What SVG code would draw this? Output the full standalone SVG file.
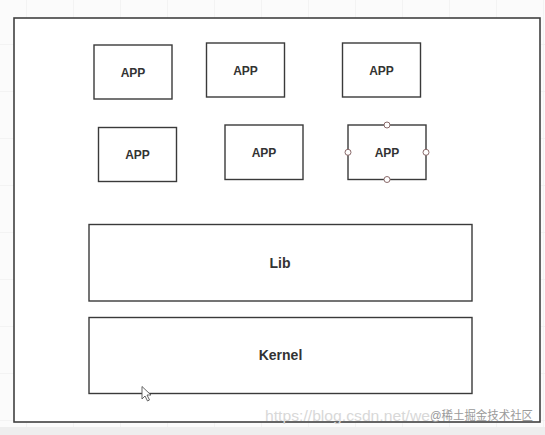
<svg xmlns="http://www.w3.org/2000/svg" width="545" height="435" viewBox="0 0 545 435">
  <style>
    .box { fill: #ffffff; stroke: #3a3a3a; stroke-width: 1.4; }
    .outer { fill: #ffffff; stroke: #404040; stroke-width: 1.6; }
    .app { font-family: "Liberation Sans", Arial, sans-serif; font-weight: bold; font-size: 12px; fill: #333333; text-anchor: middle; }
    .big { font-family: "Liberation Sans", Arial, sans-serif; font-weight: bold; font-size: 14px; fill: #333333; text-anchor: middle; }
    .handle { fill: #ffffff; stroke: #8a6a6a; stroke-width: 1; }
    .wm { font-family: "Liberation Sans", Arial, sans-serif; fill: #d8d8d8; }
    .wm2 { font-family: "Liberation Sans", "Noto Sans CJK SC", sans-serif; fill: #9a9a9a; }
  </style>
  <defs>
    <pattern id="grid" x="26" y="-3" width="47" height="47" patternUnits="userSpaceOnUse">
      <path d="M0 0V47M0 0H47" fill="none" stroke="#ececec" stroke-width="1"/>
    </pattern>
  </defs>
  <rect x="0" y="0" width="545" height="435" fill="#fbfbfb"/>
  <rect x="0" y="0" width="545" height="435" fill="url(#grid)"/>
  <rect x="0" y="427" width="545" height="8" fill="#eeeeee"/>

  <g id="container">
    <rect class="outer" x="14" y="18" width="526" height="404"/>
  </g>

  <g id="app1"><rect class="box" x="94" y="45" width="78" height="54"/><text class="app" x="133" y="76.5">APP</text></g>
  <g id="app2"><rect class="box" x="206.5" y="43" width="78" height="54"/><text class="app" x="245.5" y="74.5">APP</text></g>
  <g id="app3"><rect class="box" x="342.5" y="43" width="78" height="54"/><text class="app" x="381.5" y="74.5">APP</text></g>
  <g id="app4"><rect class="box" x="98.5" y="127.5" width="78" height="54"/><text class="app" x="137.5" y="159">APP</text></g>
  <g id="app5"><rect class="box" x="225" y="125" width="78" height="54.5"/><text class="app" x="264" y="156.5">APP</text></g>
  <g id="app6">
    <rect class="box" x="348" y="125" width="78" height="54.5"/>
    <text class="app" x="387" y="156.5">APP</text>
    <circle class="handle" cx="387" cy="125" r="3"/>
    <circle class="handle" cx="387" cy="179.5" r="3"/>
    <circle class="handle" cx="348" cy="152.3" r="3"/>
    <circle class="handle" cx="426" cy="152.3" r="3"/>
  </g>

  <g id="lib"><rect class="box" x="89" y="224.5" width="383" height="76.5"/><text class="big" x="280" y="268">Lib</text></g>
  <g id="kernel"><rect class="box" x="89" y="317.5" width="383" height="76"/><text class="big" x="280.5" y="360">Kernel</text></g>

  <g id="connectors"></g>

  <path d="M142 386.5 L142 399 L145 396 L147.5 401 L149.5 400 L147 395 L151 395 Z" fill="#ffffff" stroke="#555555" stroke-width="0.9" stroke-linejoin="round"/>

  <text class="wm" x="265" y="421" font-size="15" textLength="165" lengthAdjust="spacingAndGlyphs">https://blog.csdn.net/we</text>
  <text class="wm2" x="430" y="420" font-size="12" textLength="103" lengthAdjust="spacingAndGlyphs">@稀土掘金技术社区</text>
</svg>
